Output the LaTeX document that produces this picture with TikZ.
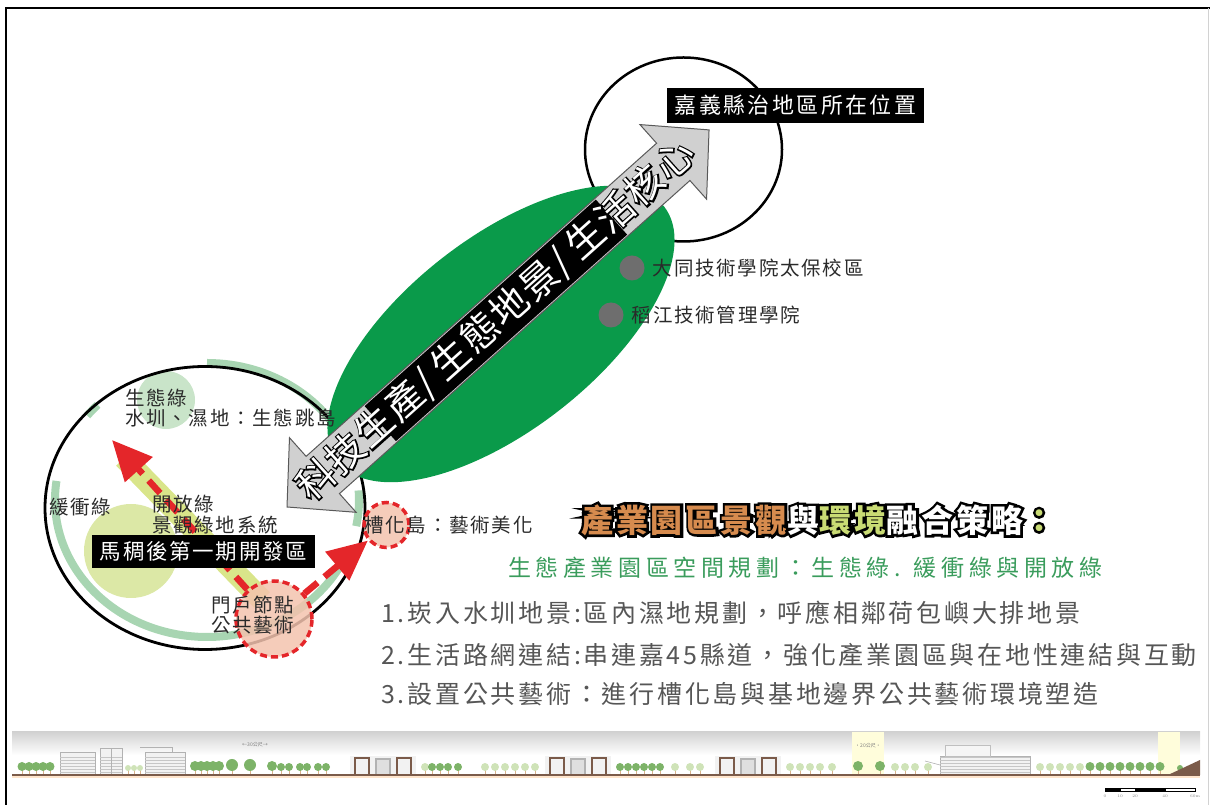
\documentclass[tikz,border=0pt]{standalone}
\usepackage{fontspec}
\newfontfamily\cjk{Noto Sans CJK TC}
\usetikzlibrary{arrows.meta,positioning,calc}
\definecolor{Leaf}{HTML}{0A9A4A}
\definecolor{Mist}{HTML}{A8D5B2}
\definecolor{Moss}{HTML}{C9E4C9}
\definecolor{Lime}{HTML}{DCE8A6}
\definecolor{Straw}{HTML}{D9E58A}
\definecolor{Alarm}{HTML}{E4262A}
\definecolor{Blush}{HTML}{F3C3AE}
\definecolor{Ash}{HTML}{D0D0D0}
\definecolor{Slate}{HTML}{6E6E6E}
\definecolor{Ink}{HTML}{2A2A2A}
\definecolor{Smoke}{HTML}{565656}
\definecolor{Copper}{HTML}{D68B4E}
\definecolor{Sprout}{HTML}{C9DB74}
\definecolor{Fern}{HTML}{3A9C5C}
\definecolor{Clay}{HTML}{7B5B4A}
\definecolor{Grove}{HTML}{7DB368}
\definecolor{Sage}{HTML}{CFE3B8}

\newcommand\cjkfont[3]{\cjk\fontsize{#1}{#2}\selectfont\addfontfeature{LetterSpace=#3}}
% outlined lettering: a stroked rim copy, the filled text on top
\newcommand\halo[4][8]{%
  \rlap{\color{#2}\addfontfeature{FakeBold=#1}#4}{\color{#3}#4}}

\begin{document}
\begin{tikzpicture}[x=1pt,y=1pt,
    lbl/.style={inner sep=0pt,text=Ink,font=\cjkfont{19.5}{20.5}{9},align=left},
    tagbox/.style={fill=black,text=white,inner sep=0pt},
    gatering/.style={circle,draw=Alarm,fill=Blush,fill opacity=.85,dash pattern=on 7pt off 4pt,line width=3.5pt,inner sep=0pt},
    flow/.style={Alarm,line width=6.5pt,dash pattern=on 17pt off 9pt,-{Triangle[length=40pt,width=36pt]}},
    ringarc/.style={Mist,line width=8pt},
    campus/.style={circle,fill=Slate,minimum size=25pt,inner sep=0pt},
    listline/.style={anchor=west,inner sep=0pt,text=Smoke,font=\cjkfont{25}{25}{11}}]
  \useasboundingbox (0,0) rectangle (1210,805);
  \draw[line width=2.5pt] (6,0) -- (6,797) -- (1210,797);
  \draw[gray!35,line width=.8pt] (1208,797) -- (1208,0);

  % street elevation
  \shade[top color=gray!35,bottom color=white] (12,50) rectangle (1200,73);
  \fill[yellow!14] (852,30) rectangle (884,73);
  \fill[yellow!14] (1158,30) rectangle (1180,73);
  \foreach \bx/\bw/\bh in {60/35/23,100/22/27,145/40/23,940/90/19}{
    \filldraw[fill=gray!10,draw=gray!60,line width=.4pt] (\bx,30) rectangle ++(\bw,\bh);
    \foreach \fy in {3,6,...,18}
      \draw[gray!45,line width=.3pt] (\bx,30+\fy) -- ++(\bw,0);
  }
  \draw[gray!60,line width=.4pt] (111,30) -- (111,57);
  \draw[gray!60,line width=.4pt] (140,58) -- (172,58) -- (172,53);
  \filldraw[fill=gray!8,draw=gray!50,line width=.4pt] (945,49) rectangle (990,60);
  \draw[gray!60,line width=.6pt] (925,44) -- (940,40);
  \foreach \gx in {350,545,715}{
    \fill[gray!10] (\gx,30) rectangle ++(66,19);
    \draw[Clay,line width=2.5pt] (\gx+5,30) -- ++(0,17) -- ++(14,0) -- ++(0,-17);
    \draw[gray!60,fill=gray!25,line width=1.5pt] (\gx+26,30) rectangle ++(14,16);
    \draw[Clay,line width=2.5pt] (\gx+47,30) -- ++(0,17) -- ++(14,0) -- ++(0,-17);
  }
  \foreach \tx/\tr/\tc in {22/4.5/Grove,29/4.5/Grove,36/4.5/Grove,43/4.5/Grove,50/4.5/Grove,
      128/3/Sage,134/3/Sage,140/3/Sage,195/5/Grove,201/5/Grove,207/5/Grove,213/5/Grove,219/5/Grove,
      232/6/Grove,250/6/Grove,272/5/Grove,281/4/Grove,289/4/Grove,300/4/Grove,307/4/Grove,318/4/Grove,
      326/4/Grove,425/4/Sage,432/4/Grove,440/4/Grove,448/4/Grove,458/4/Grove,485/4/Sage,495/4/Sage,
      505/4/Sage,515/4/Sage,525/4/Sage,535/4/Sage,620/4/Grove,628/4/Grove,636/4/Grove,644/4/Grove,
      652/4/Grove,660/4/Grove,675/4/Sage,690/4/Sage,700/4/Sage,790/4/Sage,800/4/Sage,810/4/Sage,
      820/4/Sage,832/4/Sage,858/5/Grove,880/5/Grove,895/4/Sage,905/4/Sage,915/4/Sage,928/4/Sage,
      1040/4/Sage,1050/4/Sage,1060/4/Sage,1070/4/Sage,1080/4/Sage,1090/4.5/Grove,1100/4.5/Grove,
      1110/4.5/Grove,1120/4.5/Grove,1130/4.5/Grove,1140/4.5/Grove,1150/4.5/Grove,1160/4.5/Grove,
      1180/3/Grove}{
    \draw[brown!60,line width=.6pt] (\tx,30) -- (\tx,35);
    \fill[\tc] (\tx,34+\tr) circle (\tr);
  }
  \fill[Clay] (12,28.5) rectangle (1200,30.5);
  \fill[orange!20] (12,26.5) rectangle (1200,28.5);
  \fill[Clay] (1168,30) -- (1200,45) -- (1200,30) -- cycle;
  \node[font=\cjk\fontsize{5}{5}\selectfont,text=gray] (span30) at (255,60) {←30公尺→};
  \node[font=\cjk\fontsize{5}{5}\selectfont,text=gray] (span20) at (868,59) {•20公尺•};
  \foreach \sa/\sb/\sc in {1105/1120/black,1120/1135/white,1135/1165/black,1165/1195/white}
    \filldraw[fill=\sc,draw=black,line width=.4pt] (\sa,14) rectangle (\sb,16.5);
  \foreach \sx/\st in {1105/0,1120/10,1135/20,1165/40,1195/60m}
    \node[font=\fontsize{4}{4}\selectfont,text=gray] at (\sx,9) {\st};

  % development ring
  \coordinate (ringc) at (207,305);
  \foreach \ra/\rb in {20/90,136/142,172/331,-11/4}
    \draw[ringarc] ([shift={(\ra:152 and 137)}]ringc) arc[start angle=\ra,end angle=\rb,x radius=152,y radius=137];
  \fill[Moss] (166,405) circle (29);
  \fill[Lime] (131,254) circle (47);
  \draw[Straw,line width=22pt] (124,347) -- (262,205);
  \draw[line width=2.8pt] (205,297) ellipse [x radius=160,y radius=141.5];
  \draw[line width=2.5pt] (683.5,655.5) ellipse [x radius=98.5,y radius=92];
  \fill[Leaf,rotate around={38:(501,471)}] (501,471) ellipse [x radius=207,y radius=96];

  % axis arrow
  \coordinate (lowtip) at (287,298);
  \coordinate (hightip) at (709,675);
  \begin{scope}[shift={(lowtip)},rotate=41.78]
    \filldraw[fill=Ash,draw=gray!70!black,line width=1pt] (0,0) -- (48,50) -- (48,25) -- (518,25)
      -- (518,50) -- (566,0) -- (518,-50) -- (518,-25) -- (48,-25) -- (48,-50) -- cycle;
  \end{scope}
  \node[tagbox,rotate=41.78,minimum width=310pt,minimum height=47pt] (band) at ($(lowtip)!.495!(hightip)$) {};
  \node[rotate=41.78,inner sep=0pt,font=\cjkfont{38}{38}{4}] (axis) at ($(lowtip)!.495!(hightip)$)
    {\halo[7]{black}{white}{科技生產/\kern8pt 生態地景/\kern8pt 生活核心}};

  \node[campus] (tatung) at (632,537) {};
  \node[campus] (daojiang) at (611,490) {};
  \node[lbl,right=8pt of tatung] (tatunglbl) {大同技術學院太保校區};
  \node[lbl,right=8pt of daojiang] (daojianglbl) {稻江技術管理學院};
  \node[tagbox,minimum width=257pt,minimum height=35pt,font=\cjkfont{22}{22}{11}] (seat) at (795.5,699.5) {嘉義縣治地區所在位置};

  \node[gatering,minimum size=76pt] (gate) at (274,186) {};
  \node[gatering,minimum size=45pt] (island) at (386.5,280) {};
  \coordinate (tipA) at (112,365);
  \draw[flow] (gate) -- (tipA);
  \draw[flow] (gate) -- (island);

  \node[lbl,anchor=west] (ecology) at (125,397) {生態綠\\水圳、濕地：生態跳島};
  \node[lbl,anchor=west] (buffer) at (49,298) {緩衝綠};
  \node[lbl,anchor=west] (open) at (152,290.5) {開放綠\\景觀綠地系統};
  \node[tagbox,minimum width=223pt,minimum height=33pt,font=\cjkfont{21.5}{21.5}{8}] (phase) at (203.5,253.5) {馬稠後第一期開發區};
  \node[lbl,anchor=west] (gatelbl) at (211,190) {門戶節點\\公共藝術};
  \node[lbl,anchor=west] (islandlbl) at ([xshift=2pt]island.west) {槽化島：藝術美化};

  \node[anchor=west,inner sep=0pt,font={\cjk\bfseries\fontsize{32}{32}\selectfont\addfontfeature{LetterSpace=9}}] (strategy) at (581,285)
    {\halo[16]{black}{Copper}{產業園區景觀}\halo[16]{black}{white}{與}\halo[16]{black}{Sprout}{環境}\halo[16]{black}{white}{融合策略}\halo[16]{black}{Sprout}{：}};
  \node[anchor=west,inner sep=0pt,text=Fern,font=\cjkfont{23}{23}{20}] (plan) at (508,237) {生態產業園區空間規劃：生態綠. 緩衝綠與開放綠};
  \node[listline] (item1) at (381,192) {1.崁入水圳地景:區內濕地規劃，呼應相鄰荷包嶼大排地景};
  \node[listline] (item2) at (381,150) {2.生活路網連結:串連嘉45縣道，強化產業園區與在地性連結與互動};
  \node[listline] (item3) at (381,111) {3.設置公共藝術：進行槽化島與基地邊界公共藝術環境塑造};
\end{tikzpicture}
\end{document}
